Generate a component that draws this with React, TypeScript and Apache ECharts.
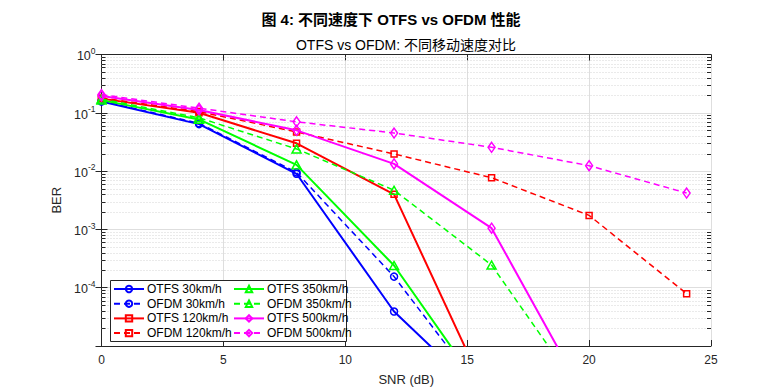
import React, { useEffect, useRef } from "react";
import * as echarts from "echarts";

// ---- data ----
const snr = [0, 4, 8, 12, 16, 20, 24];
const otfs30 = [0.156, 0.064, 0.009, 3.9e-5, 1e-6, 1e-6, 1e-6];
const ofdm30 = [0.16, 0.066, 0.0095, 1.55e-4, 1e-6, 1e-6, 1e-6];
const otfs120 = [0.175, 0.1, 0.03, 0.004, 1e-6, 1e-6, 1e-6];
const ofdm120 = [0.18, 0.105, 0.047, 0.0197, 0.0077, 0.00174, 7.9e-5];
const otfs350 = [0.165, 0.077, 0.0128, 2.4e-4, 1e-6, 1e-6, 1e-6];
const ofdm350 = [0.172, 0.082, 0.024, 0.0047, 2.45e-4, 1e-6, 1e-6];
const otfs500 = [0.195, 0.112, 0.05, 0.0133, 0.00105, 1e-6, 1e-6];
const ofdm500 = [0.205, 0.12, 0.07, 0.045, 0.0256, 0.0124, 0.0042];

const xTicks = [0, 5, 10, 15, 20, 25];
const yDecades = [-5, -4, -3, -2, -1, 0];
const minorMultipliers = [2, 3, 4, 5, 6, 7, 8, 9];

const mainTitle = "图 4: 不同速度下 OTFS vs OFDM 性能";
const subTitle = "OTFS vs OFDM: 不同移动速度对比";

const FONT = "'Liberation Sans', Arial, 'Noto Sans CJK SC', sans-serif";
const AXIS_COLOR = "#262626";

const X_MIN = xTicks[0];
const X_MAX = xTicks[xTicks.length - 1];
const Y_MIN = Math.pow(10, yDecades[0]);
const Y_MAX = Math.pow(10, yDecades[yDecades.length - 1]);

type S = {
  name: string;
  data: number[];
  color: string;
  dashed: boolean;
  symbol: string;
  size: number | number[];
};

const seriesDefs: S[] = [
  { name: "OTFS 30km/h", data: otfs30, color: "#0000ff", dashed: false, symbol: "circle", size: 7 },
  { name: "OFDM 30km/h", data: ofdm30, color: "#0000ff", dashed: true, symbol: "circle", size: 7 },
  { name: "OTFS 120km/h", data: otfs120, color: "#ff0000", dashed: false, symbol: "rect", size: 6 },
  { name: "OFDM 120km/h", data: ofdm120, color: "#ff0000", dashed: true, symbol: "rect", size: 6 },
  { name: "OTFS 350km/h", data: otfs350, color: "#00ff00", dashed: false, symbol: "triangle", size: [9, 8] },
  { name: "OFDM 350km/h", data: ofdm350, color: "#00ff00", dashed: true, symbol: "triangle", size: [9, 8] },
  { name: "OTFS 500km/h", data: otfs500, color: "#ff00ff", dashed: false, symbol: "diamond", size: [7, 10] },
  { name: "OFDM 500km/h", data: ofdm500, color: "#ff00ff", dashed: true, symbol: "diamond", size: [7, 10] },
];

const legendCol1 = ["OTFS 30km/h", "OFDM 30km/h", "OTFS 120km/h", "OFDM 120km/h"];
const legendCol2 = ["OTFS 350km/h", "OFDM 350km/h", "OTFS 500km/h", "OFDM 500km/h"];

export default function App() {
  const ref = useRef<HTMLDivElement>(null);

  useEffect(() => {
    if (!ref.current) return;
    const chart = echarts.init(ref.current, undefined, { renderer: "svg" });

    const minorVals: number[][] = [];
    for (let i = 0; i < yDecades.length - 1; i++) {
      for (const m of minorMultipliers) {
        minorVals.push([X_MIN, m * Math.pow(10, yDecades[i])]);
      }
    }

    const lineSeries = seriesDefs.map((s, i) => ({
      name: s.name,
      type: "line",
      data: snr.map((x, j) => [x, s.data[j]]),
      symbol: s.symbol,
      symbolSize: s.size,
      showSymbol: true,
      clip: true,
      z: 3 + i,
      lineStyle: {
        color: s.color,
        width: s.dashed ? 1.5 : 2,
        type: s.dashed ? [6, 4] : "solid",
      },
      itemStyle: {
        color: "rgba(255,255,255,0)",
        borderColor: s.color,
        borderWidth: 1.5,
      },
      emphasis: { disabled: true },
    }));

    const yLabel = (v: number) => {
      const e = Math.round(Math.log10(v));
      if (e === yDecades[0]) return "";
      return `{b|10}{s|${e}}`;
    };

    const legendBase = {
      orient: "vertical",
      top: 283,
      itemWidth: 30,
      itemHeight: 8,
      itemGap: 2.7,
      selectedMode: false,
      z: 60,
      padding: [0, 0, 0, 3],
      textStyle: {
        fontFamily: FONT,
        fontSize: 12,
        lineHeight: 12,
        color: "#000",
        padding: [0, 0, 0, -2],
      },
    };

    const option: any = {
      animation: false,
      textStyle: { fontFamily: FONT },
      title: {
        text: mainTitle,
        left: "center",
        top: 7,
        textStyle: { fontFamily: FONT, fontSize: 15, fontWeight: "bold", color: "#000" },
      },
      graphic: [
        {
          type: "text",
          x: 406,
          y: 45,
          style: {
            text: subTitle,
            fontFamily: FONT,
            fontSize: 14,
            fill: "#000",
            textAlign: "center",
            textVerticalAlign: "middle",
          },
        },
        {
          type: "rect",
          z: 50,
          shape: { x: 110.5, y: 280.5, width: 236, height: 61 },
          style: { fill: "#fff", stroke: AXIS_COLOR, lineWidth: 1 },
        },
      ],
      grid: { left: 101.5, right: 71, top: 54.5, bottom: 42, containLabel: false },
      legend: [
        { ...legendBase, data: legendCol1, left: 110 },
        { ...legendBase, data: legendCol2, left: 230 },
      ],
      xAxis: [
        {
          type: "value",
          min: X_MIN,
          max: X_MAX,
          interval: 5,
          name: "SNR (dB)",
          nameLocation: "middle",
          nameGap: 27,
          nameTextStyle: { fontFamily: FONT, fontSize: 13, color: AXIS_COLOR },
          axisLine: { show: true, lineStyle: { color: AXIS_COLOR, width: 1 } },
          axisTick: { show: true, inside: true, length: 6, lineStyle: { color: AXIS_COLOR } },
          axisLabel: { fontFamily: FONT, fontSize: 12, color: AXIS_COLOR, margin: 8 },
          splitLine: { show: true, lineStyle: { color: "#dedede", width: 1 } },
        },
        {
          type: "value",
          position: "top",
          min: X_MIN,
          max: X_MAX,
          interval: 5,
          axisLine: { show: true, lineStyle: { color: AXIS_COLOR, width: 1 } },
          axisTick: { show: true, inside: true, length: 6, lineStyle: { color: AXIS_COLOR } },
          axisLabel: { show: false },
          splitLine: { show: false },
        },
      ],
      yAxis: [
        {
          type: "log",
          logBase: 10,
          min: Y_MIN,
          max: Y_MAX,
          splitNumber: 5,
          name: "BER",
          nameLocation: "middle",
          nameGap: 31,
          nameTextStyle: { fontFamily: FONT, fontSize: 13, color: AXIS_COLOR },
          axisLine: { show: true, lineStyle: { color: AXIS_COLOR, width: 1 } },
          axisTick: { show: true, inside: true, length: 6, lineStyle: { color: AXIS_COLOR } },
          axisLabel: {
            formatter: yLabel,
            margin: 6,
            color: AXIS_COLOR,
            rich: {
              b: { fontFamily: FONT, fontSize: 12.5, color: AXIS_COLOR, lineHeight: 16, verticalAlign: "bottom" },
              s: { fontFamily: FONT, fontSize: 8.5, color: AXIS_COLOR, lineHeight: 16, verticalAlign: "top" },
            },
          },
          splitLine: { show: true, lineStyle: { color: "#dedede", width: 1 } },
        },
        {
          type: "log",
          logBase: 10,
          position: "right",
          min: Y_MIN,
          max: Y_MAX,
          splitNumber: 5,
          axisLine: { show: true, lineStyle: { color: AXIS_COLOR, width: 1 } },
          axisTick: { show: true, inside: true, length: 6, lineStyle: { color: AXIS_COLOR } },
          axisLabel: { show: false },
          splitLine: { show: false },
        },
      ],
      series: [
        {
          type: "custom",
          name: "minor",
          silent: true,
          z: 1,
          clip: true,
          data: minorVals,
          encode: { x: 0, y: 1 },
          renderItem: (_p: any, api: any) => {
            const v = api.value(1);
            const p0 = api.coord([X_MIN, v]);
            const p1 = api.coord([X_MAX, v]);
            const y = Math.round(p0[1]) + 0.5;
            return {
              type: "group",
              children: [
                {
                  type: "line",
                  shape: { x1: p0[0], y1: y, x2: p1[0], y2: y },
                  style: { stroke: "#d4d4d4", lineWidth: 1, lineDash: [1, 2] },
                },
                {
                  type: "line",
                  shape: { x1: p0[0], y1: y, x2: p0[0] + 4, y2: y },
                  style: { stroke: AXIS_COLOR, lineWidth: 1 },
                },
                {
                  type: "line",
                  shape: { x1: p1[0] - 4, y1: y, x2: p1[0], y2: y },
                  style: { stroke: AXIS_COLOR, lineWidth: 1 },
                },
              ],
            };
          },
        },
        ...lineSeries,
      ],
    };

    chart.setOption(option);
    return () => chart.dispose();
  }, []);

  return (
    <div
      ref={ref}
      style={{ position: "fixed", left: 0, top: 0, width: 782, height: 391, background: "#fff" }}
    />
  );
}
